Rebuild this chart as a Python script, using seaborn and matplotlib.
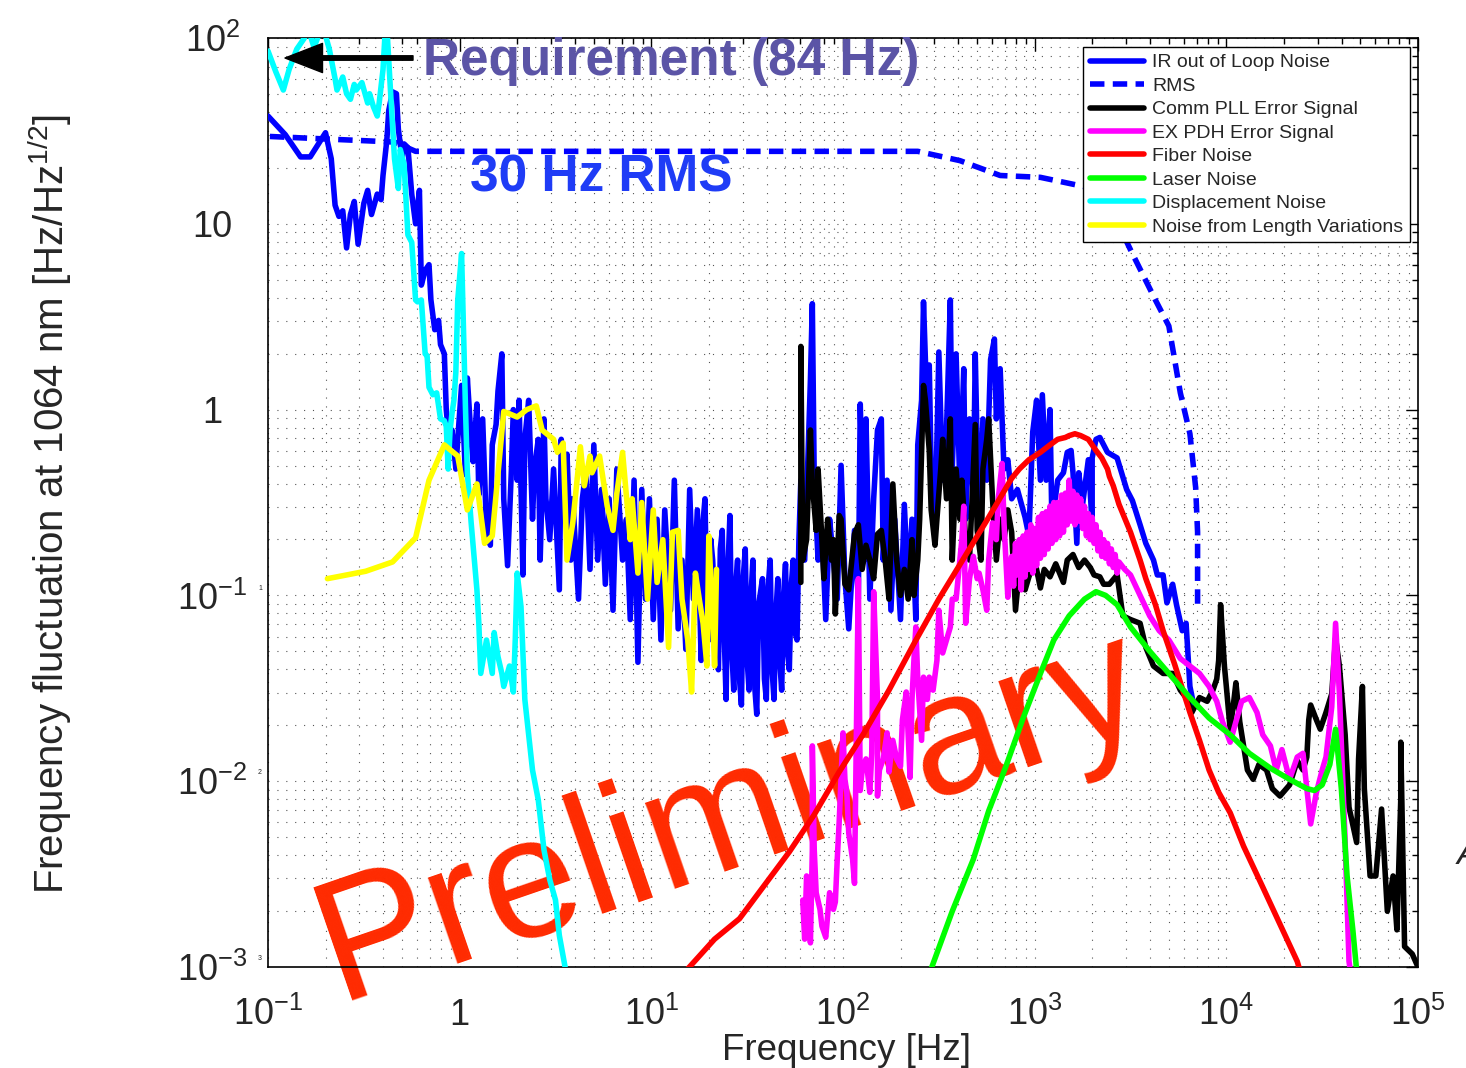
import numpy as np
import pandas as pd
import matplotlib
matplotlib.use("Agg")
import matplotlib.pyplot as plt
import seaborn as sns
from matplotlib.ticker import LogLocator, NullFormatter

# ---------------- data (log10 of frequency [Hz] and log10 of amplitude [Hz/Hz^1/2]) -------------
ir_logf = [-1.00,-0.91,-0.83,-0.78,-0.70,-0.67,-0.65,-0.63,-0.61,-0.59,-0.57,-0.55,-0.53,-0.50,-0.48,-0.46,-0.43,-0.41,-0.40,-0.38,
           -0.37,-0.35,-0.33,-0.32,-0.30,-0.29,-0.27,-0.25,-0.23,-0.21,
           -0.20,-0.18,-0.16,-0.15,-0.13,-0.11,-0.10,-0.08,-0.07,-0.05,-0.04,-0.02,-0.01,0.01,0.03,0.04,0.06,0.07,0.09,0.10,
           0.12,0.14,0.16,0.17,0.19,0.20,
           0.22,0.23,0.25,0.27,0.28,0.30,0.31,0.33,0.34,0.36,0.38,0.39,0.41,0.42,0.44,0.45,0.47,0.49,0.50,0.52,0.53,0.55,0.56,0.58,0.59,
           0.62,0.64,0.66,0.68,0.70,0.72,0.74,0.76,0.78,0.80,0.82,0.85,0.87,0.89,0.91,0.93,0.95,0.97,0.99,1.01,
           1.03,1.05,1.07,1.10,1.12,1.14,1.16,1.18,1.20,1.22,1.24,
           1.26,1.27,1.28,1.29,1.30,1.31,1.32,1.34,1.35,1.36,1.37,1.38,1.39,1.40,1.41,1.42,1.43,1.44,1.45,1.46,
           1.47,1.48,1.49,1.50,1.51,1.52,1.53,1.54,1.55,1.56,1.58,1.59,1.60,1.61,1.62,1.63,1.64,1.65,1.66,1.67,
           1.68,1.69,1.70,1.71,1.72,1.73,1.74,1.75,1.76,1.77,
           1.78,1.80,1.83,1.84,1.85,1.87,1.89,1.91,1.93,1.95,1.97,1.99,2.01,2.03,2.06,2.08,2.09,2.11,2.12,2.14,
           2.16,2.18,2.20,2.21,2.23,2.25,2.27,2.30,2.32,2.34,2.36,2.38,2.39,2.41,2.42,2.44,2.45,2.46,2.48,2.50,
           2.52,2.54,2.56,2.57,2.59,2.61,2.63,2.64,2.66,2.68,2.69,2.71,2.73,2.75,2.77,2.79,2.80,2.82,
           2.84,2.86,2.88,2.91,2.95,2.97,2.99,3.01,3.03,3.04,3.06,3.08,3.09,3.12,3.15,3.17,3.19,3.20,3.22,3.23,
           3.25,3.28,3.30,3.30,3.32,3.34,3.38,3.43,3.48,3.51,3.55,3.58,3.62,3.64,3.67,3.69,3.72,3.74,3.77,3.79,3.81,3.83]
ir_logv = [1.58,1.48,1.36,1.36,1.49,1.35,1.10,1.04,1.07,0.87,1.05,1.12,0.89,1.11,1.18,1.05,1.16,1.13,1.26,1.45,
           1.61,1.71,1.70,1.51,1.35,1.43,1.41,1.16,1.00,1.18,
           0.67,0.75,0.78,0.59,0.43,0.48,0.35,0.30,0.00,-0.22,-0.11,-0.32,-0.16,0.13,-0.35,0.17,-0.16,-0.28,0.03,-0.46,
           -0.05,-0.65,-0.73,-0.19,-0.08,0.10,
           0.30,-0.48,-0.84,-0.32,0.00,-0.38,0.05,-0.89,-0.16,0.05,-0.59,-0.32,-0.16,-0.81,-0.05,-0.48,-0.70,-0.32,-0.54,-0.97,-0.16,-0.59,-0.24,-0.81,-0.48,
           -1.02,-0.48,-0.32,-0.86,-0.19,-0.81,-0.43,-0.94,-0.48,-1.08,-0.32,-0.81,-0.59,-1.13,-0.38,-1.36,-0.43,-1.02,-0.48,-1.13,
           -0.59,-1.24,-0.54,-1.08,-0.38,-1.18,-0.81,-1.29,-0.43,-1.02,-0.54,
           -1.35,-0.60,-0.48,-1.10,-1.24,-0.70,-0.81,-1.30,-1.40,-0.75,-0.65,-1.20,-1.56,-0.85,-0.57,-1.30,-1.51,-0.95,-0.81,-1.45,
           -1.59,-0.90,-0.75,-1.35,-1.51,-1.00,-0.81,-1.50,-1.64,-1.05,-0.91,-1.45,-1.56,-0.95,-0.81,-1.40,-1.56,-1.10,-0.91,-1.35,
           -1.51,-1.00,-0.83,-1.30,-1.40,-0.95,-0.81,-1.20,-1.24,-0.70,
           -0.38,-0.81,0.16,0.57,-0.38,-0.81,-0.65,-1.13,-0.59,-0.81,-1.02,-0.30,-0.91,-1.18,-0.65,-1.02,0.03,-0.81,-0.05,-1.02,
           -0.48,-0.11,-0.05,-0.81,-0.38,-1.08,-0.59,-1.13,-0.51,-0.97,-0.59,-1.13,-0.19,0.05,0.58,-0.05,0.24,-0.32,-0.65,0.31,
           -0.38,-0.11,0.59,-0.32,0.30,-0.43,0.22,-0.59,-0.05,-0.48,0.30,-0.70,-0.05,-0.38,0.27,0.38,-0.05,0.22,
           -0.32,-0.27,-0.48,-0.43,-0.58,-0.68,-0.12,0.05,-0.38,0.08,-0.38,0.00,-0.62,-0.38,-0.34,-0.23,-0.22,-0.34,-0.72,-0.34,
           -0.51,-0.27,-0.62,-0.26,-0.16,-0.15,-0.23,-0.26,-0.43,-0.49,-0.62,-0.72,-0.81,-0.89,-0.89,-1.04,-0.94,-1.05,-1.19,-1.15,-1.49,-1.59]

rms_logf = [-0.99,-0.34,-0.23,2.39,2.61,2.82,3.03,3.26,3.39,3.50,3.63,3.70,3.76,3.81,3.84,3.85,3.85]
rms_logv = [1.47,1.44,1.39,1.39,1.34,1.26,1.25,1.20,1.10,0.86,0.59,0.45,0.09,-0.13,-0.42,-0.66,-1.06]

pll_logf = [1.78,1.78,1.79,1.81,1.83,1.84,1.86,1.87,1.89,1.90,
            1.92,1.94,1.95,1.96,1.98,1.99,2.01,2.03,2.06,2.08,
            2.10,2.12,2.14,2.16,2.18,2.20,2.22,2.24,2.26,2.28,
            2.30,2.32,2.34,2.36,2.37,2.39,2.40,2.42,2.43,2.45,
            2.46,2.48,2.49,2.51,2.52,2.54,2.56,2.57,2.59,2.61,
            2.62,2.64,2.66,2.68,2.69,2.70,2.72,2.73,2.75,2.76,
            2.78,2.80,2.82,2.84,2.86,2.88,2.90,2.92,2.95,2.97,
            3.00,3.03,3.05,3.08,3.11,3.15,3.17,3.20,3.23,3.26,
            3.29,3.31,3.34,3.36,3.39,3.43,3.46,3.50,3.55,3.58,
            3.62,3.67,3.72,3.76,3.79,3.82,3.86,3.90,3.93,3.95,
            3.96,3.97,3.99,4.00,4.02,4.04,4.05,4.07,4.11,4.14,
            4.17,4.21,4.24,4.28,4.33,4.37,4.40,4.42,4.43,4.44,
            4.47,4.49,4.52,4.55,4.57,4.59,4.62,4.64,4.68,4.69,
            4.71,4.72,4.75,4.78,4.81,4.84,4.87,4.89,4.91,4.91,
            4.93,4.97,5.00]
pll_logv = [-0.93,0.34,-0.81,-0.70,-0.11,-0.40,-0.65,-0.32,-0.70,-0.91,
            -0.59,-0.81,-0.70,-1.10,-0.57,-0.59,-0.94,-0.97,-0.67,-0.62,
            -0.86,-0.73,-0.81,-0.91,-0.67,-0.65,-0.81,-1.02,-0.40,-0.81,
            -1.00,-0.86,-1.02,-0.70,-1.00,-0.81,-0.59,0.13,0.05,-0.22,
            -0.54,-0.73,-0.59,-0.32,-0.16,-0.48,-0.05,-0.81,-0.32,-0.59,
            -0.38,-0.70,-0.81,-0.32,-0.08,-0.65,-0.81,-0.32,-0.16,-0.05,
            -0.48,-0.81,-0.59,-0.70,-0.54,-0.66,-1.08,-0.86,-0.97,-0.90,
            -0.81,-0.96,-0.86,-0.90,-0.83,-0.93,-0.81,-0.78,-0.85,-0.81,
            -0.85,-0.89,-0.90,-0.94,-0.94,-0.89,-1.11,-1.13,-1.15,-1.28,
            -1.38,-1.42,-1.42,-1.51,-1.55,-1.63,-1.55,-1.57,-1.51,-1.45,
            -1.35,-1.05,-1.38,-1.49,-1.72,-1.56,-1.47,-1.68,-1.94,-1.99,
            -1.91,-1.94,-2.04,-2.08,-2.02,-1.89,-1.94,-1.87,-1.67,-1.59,
            -1.67,-1.72,-1.63,-1.53,-1.23,-1.38,-1.75,-2.14,-2.33,-1.88,
            -1.49,-2.04,-2.51,-2.51,-2.15,-2.70,-2.51,-2.80,-2.10,-1.79,
            -2.89,-2.93,-3.00]

pdh_logf = [1.79,1.80,1.81,1.83,1.84,1.84,1.85,1.86,1.88,1.89,
            1.91,1.93,1.95,1.96,1.97,1.98,2.00,2.01,2.02,2.03,
            2.05,2.06,2.08,2.09,2.10,2.12,2.14,2.15,2.16,2.18,
            2.18,2.19,2.21,2.23,2.24,2.26,2.28,2.30,2.31,2.33,
            2.35,2.36,2.37,2.38,2.39,2.41,2.42,2.44,2.45,2.47,
            2.49,2.50,2.52,2.54,2.56,2.57,2.59,2.61,2.62,2.63,
            2.64,2.66,2.68,2.70,2.71,2.73,2.75,2.76,2.78,2.80,
            2.81,2.83,2.84,2.86,2.87,
            2.88,2.89,2.90,2.91,2.92,2.93,2.94,2.95,2.96,2.97,2.98,2.99,3.00,3.01,3.02,3.03,3.04,3.05,3.06,3.07,
            3.08,3.09,3.10,3.11,3.12,3.13,3.14,3.15,3.16,3.17,3.18,3.19,3.20,3.21,3.22,3.23,3.24,3.25,3.26,3.27,
            3.28,3.29,3.30,3.31,3.32,3.33,3.34,3.35,3.36,3.37,3.38,3.39,3.40,3.41,3.42,3.43,3.44,
            3.47,3.50,3.55,3.60,3.65,3.70,3.76,3.81,3.86,
            3.91,3.95,3.98,4.02,4.05,4.08,4.12,4.16,4.19,4.23,
            4.26,4.29,4.33,4.37,4.40,4.42,4.44,4.47,4.50,4.52,
            4.55,4.57,4.59,4.62,4.64,4.65]
pdh_logv = [-2.64,-2.85,-2.51,-2.87,-2.37,-1.81,-2.37,-2.60,-2.69,-2.78,
            -2.84,-2.60,-2.69,-2.65,-2.42,-2.22,-1.74,-1.99,-2.06,-2.28,
            -2.42,-2.55,-0.91,-2.05,-1.94,-1.88,-2.06,-1.85,-0.98,-1.56,
            -2.08,-1.94,-1.88,-1.74,-1.95,-1.78,-1.88,-1.92,-1.67,-1.52,
            -1.98,-1.56,-1.35,-1.17,-1.45,-1.78,-1.44,-1.56,-1.44,-1.51,
            -1.35,-1.08,-1.31,-1.24,-1.17,-1.02,-1.02,-0.81,-0.70,-0.52,
            -1.15,-0.91,-0.79,-0.91,-0.88,-0.97,-1.08,-0.81,-0.61,-0.70,
            -0.48,-0.29,-0.61,-1.01,-0.86,
            -0.79,-0.95,-0.72,-0.89,-0.70,-0.97,-0.68,-0.90,-0.66,-0.86,-0.62,-0.88,-0.64,-0.84,-0.58,-0.80,-0.56,-0.78,-0.55,-0.75,
            -0.52,-0.72,-0.50,-0.70,-0.50,-0.68,-0.46,-0.66,-0.45,-0.62,-0.38,-0.60,-0.44,-0.62,-0.46,-0.60,-0.48,-0.64,-0.52,-0.68,
            -0.56,-0.70,-0.58,-0.72,-0.62,-0.76,-0.66,-0.79,-0.70,-0.80,-0.72,-0.83,-0.75,-0.85,-0.78,-0.88,-0.82,
            -0.86,-0.89,-1.00,-1.11,-1.19,-1.24,-1.34,-1.38,-1.42,
            -1.49,-1.57,-1.68,-1.79,-1.68,-1.57,-1.55,-1.63,-1.75,-1.81,
            -1.94,-1.83,-1.99,-1.87,-1.85,-2.04,-2.23,-2.06,-1.94,-1.87,
            -1.60,-1.15,-1.53,-2.33,-2.97,-3.04]

fiber_logf = [1.19,1.33,1.46,1.59,1.72,1.85,1.98,2.11,2.24,2.37,2.50,2.63,2.76,2.88,2.92,2.97,3.03,3.08,3.12,3.16,
              3.18,3.21,3.24,3.28,3.30,3.32,3.35,3.38,3.39,3.41,3.44,3.50,3.55,3.58,3.63,3.67,3.73,3.81,3.86,3.91,
              3.96,4.02,4.09,4.19,4.28,4.37,4.39]
fiber_logv = [-3.01,-2.85,-2.74,-2.56,-2.38,-2.18,-1.95,-1.74,-1.51,-1.26,-1.02,-0.80,-0.58,-0.37,-0.32,-0.27,-0.23,-0.19,-0.16,-0.15,
              -0.14,-0.13,-0.14,-0.16,-0.19,-0.22,-0.26,-0.32,-0.36,-0.41,-0.51,-0.66,-0.81,-0.91,-1.05,-1.19,-1.37,-1.63,-1.78,-1.94,
              -2.06,-2.17,-2.35,-2.57,-2.77,-2.97,-3.04]

laser_logf = [2.46,2.57,2.68,2.76,2.85,2.94,3.03,3.10,3.18,3.26,3.32,3.37,3.43,3.50,3.60,3.70,3.81,3.91,4.02,4.12,
              4.23,4.33,4.42,4.46,4.50,4.54,4.57,4.60,4.63,4.66,4.68]
laser_logv = [-3.01,-2.70,-2.42,-2.16,-1.92,-1.66,-1.42,-1.24,-1.11,-1.02,-0.98,-1.00,-1.05,-1.17,-1.30,-1.42,-1.55,-1.66,-1.75,-1.85,
              -1.93,-1.99,-2.04,-2.05,-2.02,-1.91,-1.72,-2.04,-2.51,-2.80,-3.02]

disp_logf = [-1.00,-0.96,-0.92,-0.89,-0.85,-0.81,-0.79,-0.76,-0.73,-0.71,
             -0.68,-0.65,-0.64,-0.61,-0.59,-0.57,-0.55,-0.54,-0.51,-0.48,
             -0.47,-0.45,-0.43,-0.42,-0.40,-0.39,-0.38,-0.36,-0.34,-0.32,
             -0.31,-0.29,-0.27,-0.25,-0.23,-0.22,-0.20,-0.18,-0.17,-0.16,
             -0.14,-0.12,-0.10,-0.08,-0.07,-0.06,-0.05,-0.04,-0.03,-0.02,
             -0.01,0.01,0.02,0.03,0.04,0.06,0.09,0.10,0.11,0.14,
             0.17,0.18,0.20,0.22,0.23,0.26,0.28,0.29,0.30,0.32,
             0.34,0.38,0.41,0.44,0.47,0.50,0.52,0.55,0.56]
disp_logv = [1.93,1.82,1.72,1.83,1.94,2.00,2.05,1.95,2.03,2.05,
             1.94,1.78,1.72,1.79,1.70,1.67,1.75,1.72,1.76,1.65,
             1.70,1.63,1.58,1.65,1.83,2.01,2.06,1.70,1.35,1.19,
             1.40,1.32,0.94,0.90,0.59,0.58,0.59,0.30,0.29,0.12,
             0.08,0.09,-0.05,-0.06,-0.09,-0.32,-0.11,-0.02,0.05,0.20,
             0.59,0.84,0.43,0.02,-0.34,-0.61,-0.97,-1.15,-1.42,-1.24,
             -1.42,-1.20,-1.33,-1.42,-1.49,-1.38,-1.52,-1.24,-0.88,-1.06,
             -1.56,-1.94,-2.10,-2.37,-2.53,-2.64,-2.83,-3.00,-3.09]

length_logf = [-0.69,-0.49,-0.35,-0.23,-0.16,-0.08,-0.01,0.04,0.09,0.13,
               0.17,0.23,0.30,0.35,0.40,0.43,0.49,0.51,0.54,0.56,
               0.59,0.63,0.65,0.68,0.69,0.73,0.77,0.80,0.82,0.85,
               0.89,0.90,0.93,0.95,0.98,1.01,1.03,1.06,1.09,1.11,
               1.14,1.16,1.19,1.21,1.23,1.25,1.27,1.29,1.30,1.32,
               1.33,1.34]
length_logv = [-0.91,-0.87,-0.82,-0.69,-0.38,-0.19,-0.25,-0.54,-0.40,-0.72,
               -0.68,-0.01,-0.04,0.00,0.02,-0.11,-0.16,-0.23,-0.18,-0.81,
               -0.61,-0.20,-0.41,-0.25,-0.34,-0.25,-0.52,-0.65,-0.45,-0.23,
               -0.70,-0.48,-0.88,-0.50,-1.02,-0.54,-0.93,-0.70,-1.28,-0.66,
               -0.65,-1.02,-1.24,-1.52,-0.88,-1.02,-1.15,-1.38,-0.68,-1.13,
               -1.38,-0.86]

legend_labels = ["IR out of Loop Noise", "RMS", "Comm PLL Error Signal", "EX PDH Error Signal",
                 "Fiber Noise", "Laser Noise", "Displacement Noise", "Noise from Length Variations"]
line_colors = ["#0000ff", "#0000ff", "#000000", "#ff00ff", "#ff0000", "#00ff00", "#00ffff", "#ffff00"]

x_ticks = [0.1, 1, 10, 100, 1e3, 1e4, 1e5]
x_ticklabels = [r"$10^{-1}$", "1", r"$10^{1}$", r"$10^{2}$", r"$10^{3}$", r"$10^{4}$", r"$10^{5}$"]
y_ticks = [1e-3, 1e-2, 1e-1, 1, 10, 100]
y_ticklabels = [r"$10^{-3}$", r"$10^{-2}$", r"$10^{-1}$", "1", "10", r"$10^{2}$"]

# ---------------- style -------------
sns.set_style("white")
plt.rcParams["font.family"] = ["Liberation Sans", "DejaVu Sans"]
plt.rcParams["mathtext.fontset"] = "custom"
plt.rcParams["mathtext.rm"] = "Liberation Sans"
plt.rcParams["mathtext.it"] = "Liberation Sans:italic"
plt.rcParams["mathtext.bf"] = "Liberation Sans:bold"

W, H = 1466, 1068
fig = plt.figure(figsize=(W / 100, H / 100), dpi=100)
L, R, T, B = 268, 1418, 38, 967
ax = fig.add_axes([L / W, 1 - B / H, (R - L) / W, (B - T) / H])
ax.set_xscale("log")
ax.set_yscale("log")

series = [
    (ir_logf, ir_logv), (rms_logf, rms_logv), (pll_logf, pll_logv), (pdh_logf, pdh_logv),
    (fiber_logf, fiber_logv), (laser_logf, laser_logv), (disp_logf, disp_logv), (length_logf, length_logv),
]
for i, ((lf, lv), lab, col) in enumerate(zip(series, legend_labels, line_colors)):
    df = pd.DataFrame({"f": np.power(10.0, lf), "v": np.power(10.0, lv)})
    sns.lineplot(data=df, x="f", y="v", ax=ax, sort=False, estimator=None,
                 color=col, lw=4.0, label=lab, zorder=3 + i * 0.1)
    if lab == "RMS":
        ax.lines[-1].set_dashes([2.6, 1.5])

ax.set_xlim(0.1, 1e5)
ax.set_ylim(1e-3, 1e2)
ax.set_xlabel("")
ax.set_ylabel("")

ax.set_xticks(x_ticks)
ax.set_xticklabels(x_ticklabels)
ax.set_yticks(y_ticks)
ax.set_yticklabels(y_ticklabels)
ax.xaxis.set_minor_locator(LogLocator(base=10, subs=np.arange(2, 10), numticks=30))
ax.yaxis.set_minor_locator(LogLocator(base=10, subs=np.arange(2, 10), numticks=30))
ax.xaxis.set_minor_formatter(NullFormatter())
ax.yaxis.set_minor_formatter(NullFormatter())

ax.tick_params(which="both", direction="in", top=True, right=True, width=1, color="black")
ax.tick_params(which="major", length=9)
ax.tick_params(which="minor", length=4.5)
ax.tick_params(axis="x", which="major", labelsize=26, pad=42)
ax.tick_params(axis="y", which="major", labelsize=26, pad=40)
for lbl in ax.get_xticklabels():
    lbl.set_va("baseline")
for lbl in ax.get_yticklabels():
    lbl.set_ha("center")

ax.grid(True, which="both", linestyle=(0, (1, 7)), color="#555555", lw=0.8)
for sp in ax.spines.values():
    sp.set_color("black")
    sp.set_linewidth(1.2)

leg = ax.legend(loc="upper right", bbox_to_anchor=((1410 - L) / (R - L), (B - 47) / (B - T)),
                fontsize=14, frameon=True, fancybox=False, edgecolor="black", framealpha=1,
                labelspacing=0.3, handlelength=2.8, handletextpad=0.4, borderpad=0.35, borderaxespad=0)
leg.get_frame().set_linewidth(1.0)
leg.set_zorder(10)

# annotations
ax.text((671 - L) / (R - L), (B - 62) / (B - T), "Requirement (84 Hz)", transform=ax.transAxes,
        ha="center", va="center", fontsize=37, fontweight="bold", color="#5b54a6", zorder=6)
ax.text((601 - L) / (R - L), (B - 178) / (B - T), "30 Hz RMS", transform=ax.transAxes,
        ha="center", va="center", fontsize=37, fontweight="bold", color="#1f3cf6", zorder=6)
ax.annotate("", xy=((285 - L) / (R - L), (B - 58) / (B - T)), xycoords="axes fraction",
            xytext=((413 - L) / (R - L), (B - 58) / (B - T)), textcoords="axes fraction",
            arrowprops=dict(facecolor="black", edgecolor="black", width=3.2, headwidth=21,
                            headlength=27, shrink=0), zorder=6)
ax.text((338 - L) / (R - L), (B - 1000) / (B - T), "Preliminary", transform=ax.transAxes,
        rotation=19, rotation_mode="anchor", ha="left", va="baseline", fontsize=124,
        color="#ff2a00", clip_on=False, zorder=1.5)

for txt, yy in [("1", 588), ("2", 773), ("3", 958)]:
    ax.text((260 - L) / (R - L), (B - yy) / (B - T), txt, transform=ax.transAxes,
            ha="center", va="center", fontsize=5, clip_on=False)

fig.text(846 / W, 1 - 1050 / H, "Frequency [Hz]", ha="center", va="center", fontsize=26.5)
fig.text(50 / W, 1 - 504 / H, "Frequency fluctuation at 1064 nm [Hz/Hz$^{1/2}$]",
         rotation=90, ha="center", va="center", fontsize=29)
fig.text(1457 / W, 1 - 855 / H, "A", ha="left", va="center", fontsize=24, style="italic")

fig.savefig("out.png", dpi=100)
